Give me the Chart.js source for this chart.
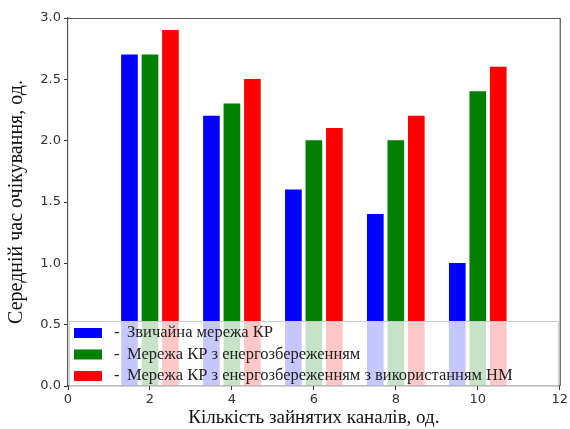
<!DOCTYPE html>
<html><head><meta charset="utf-8">
<script src="https://cdn.jsdelivr.net/npm/chart.js@4"></script>
<style>html,body{margin:0;padding:0;background:#fff}#wrap{width:570px;height:429px}</style>
</head><body><div id="wrap"><canvas id="c" width="570" height="429"></canvas></div>
<script>
const channels = [2, 4, 6, 8, 10];
const seriesLabels = ["Звичайна мережа КР", "Мережа КР з енергозбереженням", "Мережа КР з енергозбереженням з використанням НМ"];
const ordinary = [2.7, 2.2, 1.6, 1.4, 1.0];
const energySaving = [2.7, 2.3, 2.0, 2.0, 2.4];
const energySavingNM = [2.9, 2.5, 2.1, 2.2, 2.6];
const xTicks = [0, 2, 4, 6, 8, 10, 12];
const yTicks = [0.0, 0.5, 1.0, 1.5, 2.0, 2.5, 3.0];
const colors = ["#0000ff", "#008000", "#ff0000"];
const offsets = [-0.5, 0, 0.5];
const allSeries = [ordinary, energySaving, energySavingNM];

const datasets = allSeries.map((vals, i) => ({
  label: seriesLabels[i],
  data: channels.map((c, j) => ({x: c + offsets[i], y: vals[j]})),
  backgroundColor: colors[i],
  borderWidth: 0,
  barThickness: 16,
  grouped: false
}));

const legendPlugin = {
  id: 'boxLegend',
  afterDatasetsDraw(chart) {
    const ctx = chart.ctx, a = chart.chartArea;
    ctx.save();
    ctx.strokeStyle = '#555'; ctx.lineWidth = 1.2;
    ctx.beginPath();
    ctx.moveTo(a.left, a.top + 0.5); ctx.lineTo(a.right + 0.5, a.top + 0.5); ctx.lineTo(a.right + 0.5, a.bottom);
    ctx.stroke();
    const top = chart.scales.y.getPixelForValue(0.53);
    const bottom = a.bottom - 1;
    ctx.fillStyle = 'rgba(255,255,255,0.78)';
    ctx.fillRect(a.left + 1, top, a.right - a.left - 2, bottom - top);
    ctx.strokeStyle = 'rgba(200,200,200,0.9)'; ctx.lineWidth = 1;
    ctx.strokeRect(a.left + 1.5, top + 0.5, a.right - a.left - 3, bottom - top);
    ctx.font = '16.5px "Liberation Serif"';
    ctx.textBaseline = 'middle';
    chart.data.datasets.forEach((ds, i) => {
      const y = top + 12 + i * 21.5;
      ctx.fillStyle = ds.backgroundColor;
      ctx.fillRect(a.left + 6, y - 5, 28, 10);
      ctx.fillStyle = '#222';
      ctx.fillText('-', a.left + 46, y);
      ctx.fillText(ds.label, a.left + 59, y);
    });
    ctx.restore();
  }
};

new Chart(document.getElementById('c'), {
  type: 'bar',
  data: { datasets },
  options: {
    responsive: false,
    animation: false,
    layout: { padding: { top: 18, right: 7, left: 0, bottom: 0 } },
    plugins: { legend: { display: false }, tooltip: { enabled: false } },
    scales: {
      x: {
        type: 'linear', min: 0, max: 12, offset: false,
        afterBuildTicks: s => { s.ticks = xTicks.map(v => ({value: v})); },
        afterFit: s => { s.height = 43; },
        grid: { drawOnChartArea: false, drawTicks: true, tickLength: 4, color: '#333', offset: false },
        border: { display: true, color: '#555', width: 1.2 },
        ticks: { font: { family: '"DejaVu Sans", sans-serif', size: 13 }, color: '#333', padding: 2, maxRotation: 0, callback: v => v },
        title: { display: true, text: 'Кількість зайнятих каналів, од.', font: { family: '"Liberation Serif", serif', size: 19 }, color: '#111', padding: { top: 0, bottom: 0 } }
      },
      y: {
        min: 0, max: 3,
        afterBuildTicks: s => { s.ticks = yTicks.map(v => ({value: v})); },
        afterFit: s => { s.width = 68; },
        grid: { drawOnChartArea: false, drawTicks: true, tickLength: 4, color: '#333' },
        border: { display: true, color: '#555', width: 1.2 },
        ticks: { font: { family: '"DejaVu Sans", sans-serif', size: 13 }, color: '#333', padding: 3, callback: v => v.toFixed(1) },
        title: { display: true, text: 'Середній час очікування, од.', font: { family: '"Liberation Serif", serif', size: 20 }, color: '#111', padding: { top: 5, bottom: 0 } }
      }
    }
  },
  plugins: [legendPlugin]
});
</script></body></html>
